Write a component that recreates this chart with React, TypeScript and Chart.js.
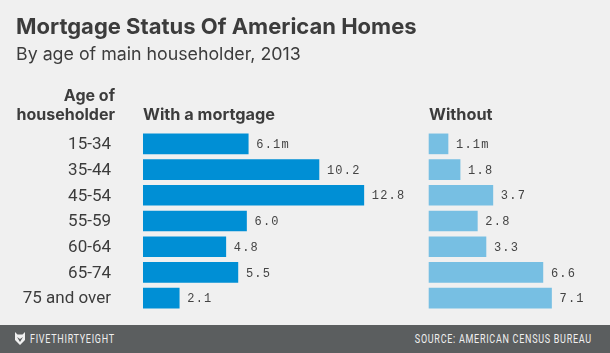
import React, { useEffect, useRef } from "react";
import { Chart, registerables } from "chart.js";

Chart.register(...registerables);

const ageGroups = ["15-34", "35-44", "45-54", "55-59", "60-64", "65-74", "75 and over"];
const withMortgage = [6.1, 10.2, 12.8, 6.0, 4.8, 5.5, 2.1];
const withoutMortgage = [1.1, 1.8, 3.7, 2.8, 3.3, 6.6, 7.1];

const TEXT = "#3c3c3c";
const SANS = "Inter, Roboto, sans-serif";

const valueLabels = {
  id: "valueLabels",
  afterDatasetsDraw(chart: any) {
    const ctx = chart.ctx;
    ctx.save();
    ctx.font = "12px 'Liberation Mono', monospace";
    (ctx as any).letterSpacing = "1.2px";
    ctx.fillStyle = "#444";
    ctx.textBaseline = "middle";
    ctx.textAlign = "left";
    chart.data.datasets.forEach((ds: any, i: number) => {
      chart.getDatasetMeta(i).data.forEach((bar: any, j: number) => {
        const text = ds.data[j].toFixed(1) + (j === 0 ? "m" : "");
        ctx.fillText(text, bar.x + 8, bar.y + 1);
      });
    });
    ctx.restore();
  },
};

function Abs({ style, children }: { style: React.CSSProperties; children: React.ReactNode }) {
  return <div style={{ position: "absolute", whiteSpace: "nowrap", ...style }}>{children}</div>;
}

export default function App() {
  const ref = useRef<HTMLCanvasElement>(null);
  useEffect(() => {
    document.body.style.margin = "0";
    document.body.style.background = "#f0f0f0";
    const chart = new Chart(ref.current!, {
      type: "bar",
      data: {
        labels: ageGroups,
        datasets: [
          { label: "With a mortgage", data: withMortgage, xAxisID: "x", backgroundColor: "#008fd5", grouped: false, barThickness: 20 } as any,
          { label: "Without", data: withoutMortgage, xAxisID: "x2", backgroundColor: "#77bfe3", grouped: false, barThickness: 20 } as any,
        ],
      },
      options: {
        indexAxis: "y",
        animation: false,
        responsive: false,
        layout: { padding: { top: 131, bottom: 42, left: 0, right: 0 } },
        plugins: { legend: { display: false }, tooltip: { enabled: false } },
        scales: {
          x: { type: "linear", min: 0, max: 27.07, display: false },
          x2: { type: "linear", min: -16.58, max: 10.49, display: false },
          y: {
            type: "category",
            border: { display: false },
            grid: { display: false },
            afterFit: (s: any) => { s.width = 143; },
            ticks: {
              color: TEXT,
              padding: 24,
              labelOffset: 1,
              font: { family: "Roboto, sans-serif", size: 17 },
              autoSkip: false,
            },
          },
        },
      },
      plugins: [valueLabels],
    } as any);
    return () => chart.destroy();
  }, []);

  return (
    <div style={{ position: "relative", width: 610, height: 353, background: "#f0f0f0", overflow: "hidden", fontFamily: SANS, color: TEXT }}>
      <canvas ref={ref} width={610} height={353} style={{ position: "absolute", left: 0, top: 0, display: "block" }} />
      <Abs style={{ left: 16, top: 10, fontSize: 22, fontWeight: 700, lineHeight: "32px" }}>Mortgage Status Of American Homes</Abs>
      <Abs style={{ left: 16, top: 41, fontSize: 17.8, lineHeight: "26px" }}>By age of main householder, 2013</Abs>
      <Abs style={{ right: 495, top: 86, fontSize: 16, fontWeight: 700, lineHeight: "19px", textAlign: "right" }}>Age of<br />householder</Abs>
      <Abs style={{ left: 143, top: 105, fontSize: 16.3, fontWeight: 700, lineHeight: "19px" }}>With a mortgage</Abs>
      <Abs style={{ left: 429, top: 105, fontSize: 16.3, fontWeight: 700, lineHeight: "19px" }}>Without</Abs>
      <div style={{ position: "absolute", left: 0, top: 325, width: 610, height: 28, background: "#5b5e5f", color: "#f0f0f0" }}>
        <svg width="12" height="15" viewBox="0 0 12 15" style={{ position: "absolute", left: 14, top: 6 }}>
          <path d="M1 1 L3.5 3.5 H8.5 L11 1 V9 L6 14 L1 9 Z M3 6 L6 11 L9 6 L6 8 Z" fill="#f0f0f0" fillRule="evenodd" />
        </svg>
        <Abs style={{ left: 30, top: 6, fontSize: 12.5, lineHeight: "16px", letterSpacing: 1, fontFamily: "Roboto, sans-serif", transform: "scaleX(0.72)", transformOrigin: "left center" }}>FIVETHIRTYEIGHT</Abs>
        <Abs style={{ right: 18, top: 6, fontSize: 12.5, lineHeight: "16px", letterSpacing: 1, fontFamily: "Roboto, sans-serif", transform: "scaleX(0.72)", transformOrigin: "right center" }}>SOURCE: AMERICAN CENSUS BUREAU</Abs>
      </div>
    </div>
  );
}
